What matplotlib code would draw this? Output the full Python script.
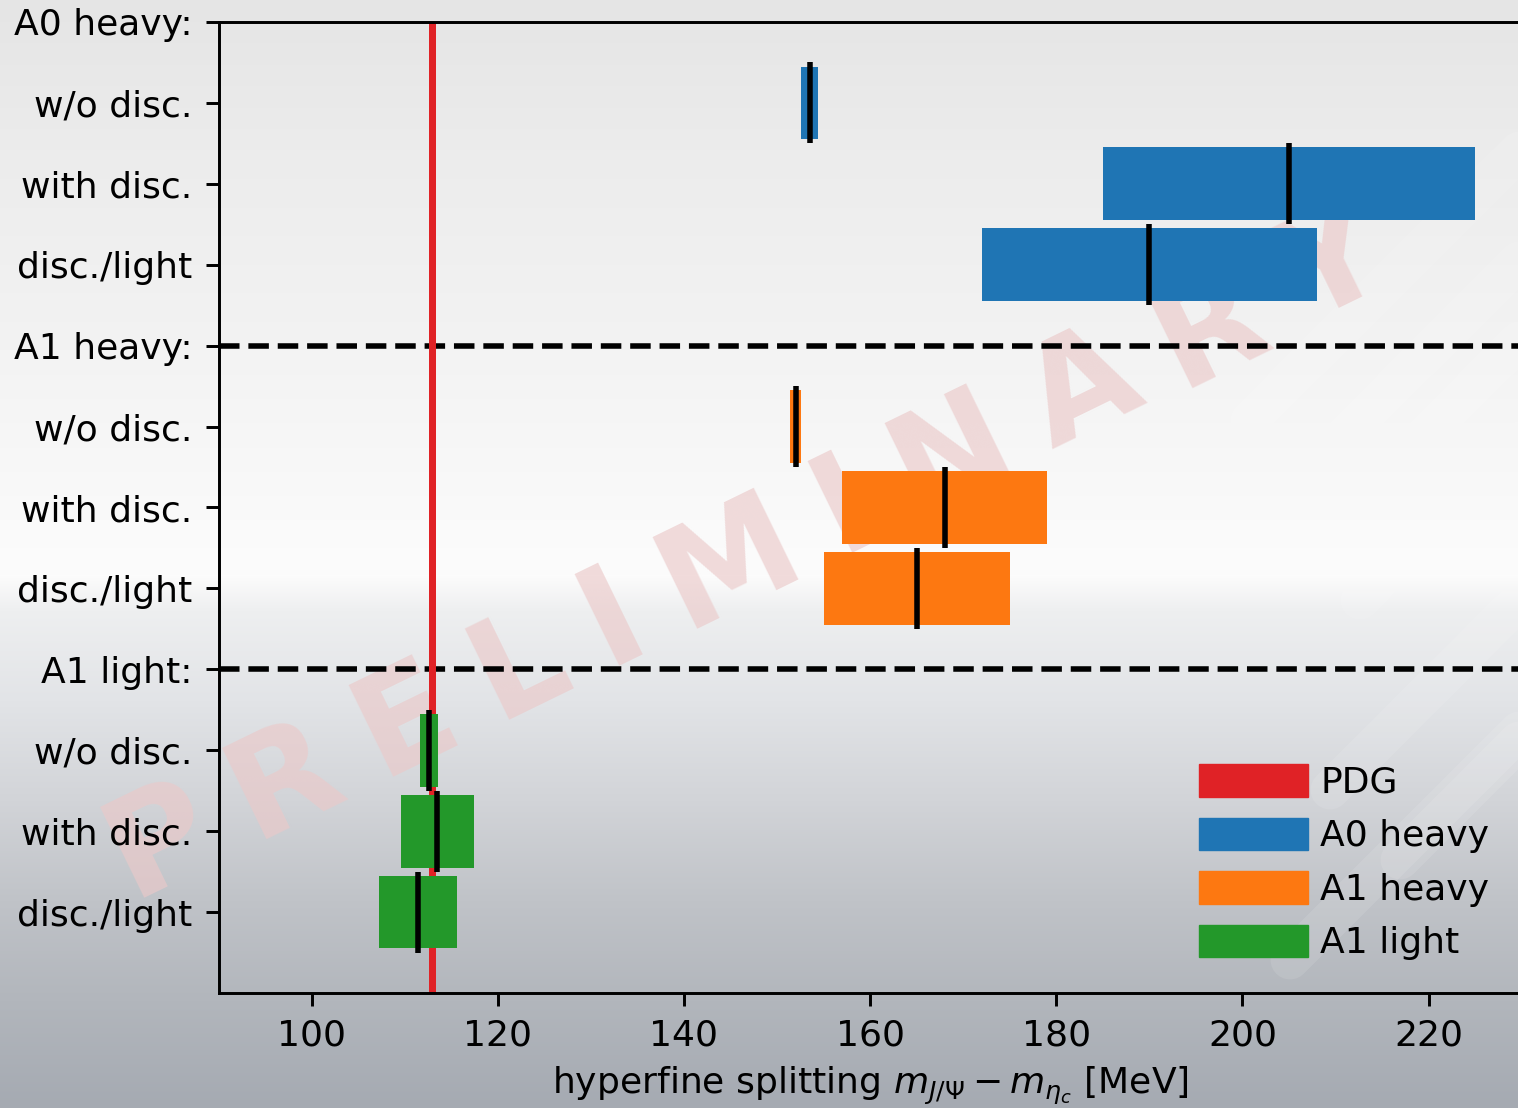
import numpy as np
import matplotlib.pyplot as plt
from matplotlib.patches import Patch

# hyperfine splitting m_J/psi - m_eta_c [MeV], central value and error
labels = ["A0 heavy:", "w/o disc.", "with disc.", "disc./light",
          "A1 heavy:", "w/o disc.", "with disc.", "disc./light",
          "A1 light:", "w/o disc.", "with disc.", "disc./light"]
groups = ["A0 heavy", "A1 heavy", "A1 light"]
colors = ["#1f75b4", "#fd7811", "#23982a"]

a0_heavy_val = [153.5, 205.0, 190.0]
a0_heavy_err = [0.9, 20.0, 18.0]
a1_heavy_val = [152.0, 168.0, 165.0]
a1_heavy_err = [0.6, 11.0, 10.0]
a1_light_val = [112.6, 113.5, 111.4]
a1_light_err = [1.0, 3.9, 4.2]

pdg_val = 113.0
pdg_err = 0.4

K = 2.66  # line scale
W, H = 1518, 1108
plt.rcParams.update({
    "font.size": 26.0,
    "axes.linewidth": 0.8 * K,
    "xtick.major.size": 3.5 * K, "xtick.major.width": 0.8 * K, "xtick.major.pad": 3.5 * K,
    "ytick.major.size": 3.5 * K, "ytick.major.width": 0.8 * K, "ytick.major.pad": 3.5 * K,
    "lines.linewidth": 1.5 * K,
    "axes.labelpad": 9,
})

fig = plt.figure(figsize=(W / 100, H / 100), dpi=100)

# background gradient
bg = fig.add_axes([0, 0, 1, 1], zorder=-10)
stops_y = [0, 150, 350, 520, 575, 610, 700, 800, 900, 1000, 1108]
stops_r = [229, 236, 243, 250, 252, 238, 226, 210, 192, 178, 165]
stops_g = [229, 236, 243, 250, 252, 239, 228, 212, 195, 182, 170]
stops_b = [229, 236, 243, 250, 252, 240, 231, 216, 200, 188, 178]
yy = np.arange(H)
grad = np.stack([np.interp(yy, stops_y, stops_r),
                 np.interp(yy, stops_y, stops_g),
                 np.interp(yy, stops_y, stops_b)], axis=-1) / 255.0
grad = np.repeat(grad[:, None, :], 4, axis=1)
bg.imshow(grad, aspect="auto", extent=[0, 1, 0, 1], origin="upper")
bg.set_xlim(0, 1)
bg.set_ylim(0, 1)
bg.axis("off")

# faint logo strokes on the right
strokes = [((1300, 560), (1530, 330)), ((1360, 600), (1530, 430)),
           ((1250, 420), (1520, 150)), ((1330, 450), (1530, 250)),
           ((1330, 790), (1530, 590)), ((1400, 860), (1530, 730)),
           ((1290, 960), (1530, 720))]
for (x0, y0), (x1, y1) in strokes:
    bg.plot([x0 / W, x1 / W], [1 - y0 / H, 1 - y1 / H], color="white",
            alpha=0.1, lw=28, solid_capstyle="round")

# watermark
word = "PRELIMINARY"
ang = 26.0
fig.canvas.draw()
rend = fig.canvas.get_renderer()
widths = []
for ch in word:
    t = fig.text(0, 0, ch, fontsize=100, weight="bold")
    widths.append(t.get_window_extent(rend).width)
    t.remove()
span = 1306.0
inner = sum(widths) - widths[0] / 2 - widths[-1] / 2
gap = (span - inner) / (len(word) - 1)
cx, cy = 747.0, H - 555.0
d = np.array([np.cos(np.deg2rad(ang)), np.sin(np.deg2rad(ang))])
pos = [0.0]
for i in range(1, len(word)):
    pos.append(pos[-1] + (widths[i - 1] + widths[i]) / 2 + gap)
pos = np.array(pos) - span / 2
for ch, p in zip(word, pos):
    x, y = np.array([cx, cy]) + p * d
    bg.text(x / W, y / H, ch, fontsize=100, weight="bold", color=(0.92, 0.79, 0.79),
            alpha=0.65, ha="center", va="center", rotation=ang,
            rotation_mode="anchor", transform=bg.transAxes)

# main plot
ax = fig.add_axes([218.5 / W, 115 / H, (1521.7 - 218.5) / W, 971 / H])
ax.patch.set_alpha(0)

ax.axvspan(pdg_val - pdg_err, pdg_val + pdg_err, color="#e02226", lw=0, zorder=1.5)
ax.axhline(4, color="k", ls="--", zorder=1)
ax.axhline(8, color="k", ls="--", zorder=1)

series = [(a0_heavy_val, a0_heavy_err), (a1_heavy_val, a1_heavy_err),
          (a1_light_val, a1_light_err)]
for g, ((vals, errs), c) in enumerate(zip(series, colors)):
    ys = np.arange(3) + 1 + 4 * g
    vals = np.array(vals)
    errs = np.array(errs)
    ax.barh(ys, 2 * errs, left=vals - errs, height=0.9, color=c, zorder=2)
    ax.vlines(vals, ys - 0.5, ys + 0.5, color="k", zorder=3)

ax.set_yticks(range(len(labels)))
ax.set_yticklabels(labels)
ax.set_ylim(12, 0)
ax.set_xlim(90, 230)
ax.set_xticks([100, 120, 140, 160, 180, 200, 220])
ax.set_xlabel(r"hyperfine splitting $m_{J/\Psi} - m_{\eta_c}$ [MeV]")

handles = [Patch(color="#e02226", label="PDG")] + \
          [Patch(color=c, label=g) for g, c in zip(groups, colors)]
ax.legend(handles=handles, loc="lower right", frameon=False,
          handlelength=3.0, handleheight=1.0, handletextpad=0.35,
          labelspacing=0.5)

fig.savefig("out.png", dpi=100)
